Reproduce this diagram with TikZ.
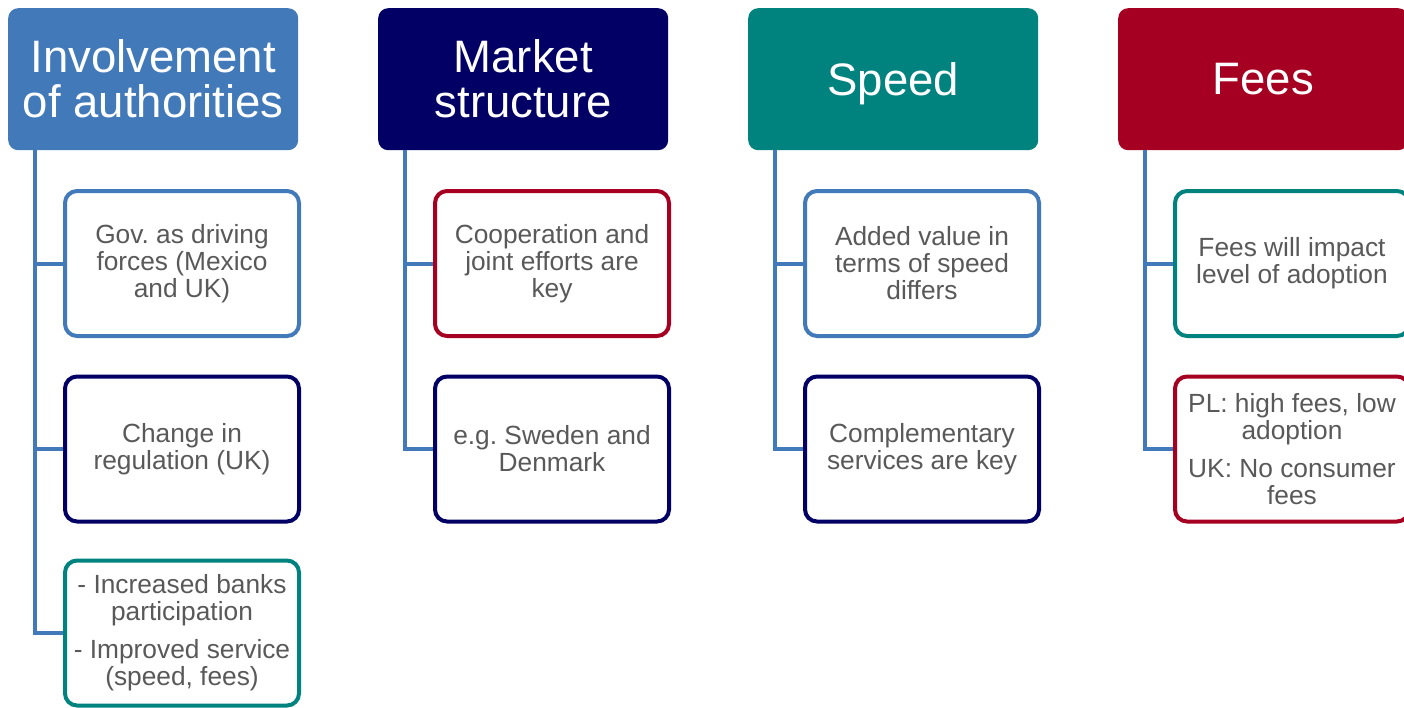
\documentclass[tikz,border=0pt]{standalone}
\usepackage{fontspec}
\setmainfont{Liberation Sans}
\frenchspacing
\definecolor{cblue}{HTML}{4279B9}
\definecolor{cnavy}{HTML}{020064}
\definecolor{cteal}{HTML}{00827F}
\definecolor{cred}{HTML}{A50021}
\definecolor{cgrey}{HTML}{595959}
\begin{document}
\begin{tikzpicture}[x=1pt,y=-1pt,
  head/.style={rounded corners=10pt, minimum width=290pt, minimum height=142pt,
    inner sep=0pt, text=white, font=\fontsize{45.5}{45}\selectfont, align=center,
    anchor=north west},
  child/.style={draw=#1, line width=4pt, rounded corners=12pt, fill=white,
    minimum width=234pt, minimum height=145pt, inner sep=0pt, text=cgrey,
    font=\fontsize{26.3}{27}\selectfont, align=center},
  conn/.style={draw=cblue, line width=4pt}]
\useasboundingbox (0,0) rectangle (1404,707);
\clip (0,0) rectangle (1404,707);

% headers
\node[head, fill=cblue] (h1) at (8,8) {Involvement\\of authorities};
\node[head, fill=cnavy] (h2) at (378,8) {Market\\structure};
\node[head, fill=cteal, text depth=0pt] (h3) at (748,8) {Speed};
\node[head, fill=cred, text depth=0pt]  (h4) at (1118,8) {Fees};

% spine coordinates
\coordinate (s1) at ([xshift=27pt]h1.south west);
\coordinate (s2) at ([xshift=27pt]h2.south west);
\coordinate (s3) at ([xshift=27pt]h3.south west);
\coordinate (s4) at ([xshift=27pt]h4.south west);

% column 1
\node[child=cblue] (c11) at (182,263.5) {Gov. as driving\\forces (Mexico\\and UK)};
\node[child=cnavy] (c12) at (182,449) {Change in\\regulation (UK)};
\node[child=cteal] (c13) at (182,633) {- Increased banks\\participation\\[11pt]- Improved service\\(speed, fees)};

% column 2
\node[child=cred]  (c21) at (552,263.5) {Cooperation and\\joint efforts are\\key};
\node[child=cnavy] (c22) at (552,449) {e.g. Sweden and\\Denmark};

% column 3
\node[child=cblue] (c31) at (922,263.5) {Added value in\\terms of speed\\differs};
\node[child=cnavy] (c32) at (922,449) {Complementary\\services are key};

% column 4
\node[child=cteal] (c41) at (1292,263.5) {Fees will impact\\level of adoption};
\node[child=cred]  (c42) at (1292,449) {PL: high fees, low\\adoption\\[11pt]UK: No consumer\\fees};

% connectors
\draw[conn] (s1) |- (c13.west);
\draw[conn] (s1) |- (c12.west);
\draw[conn] (s1) |- (c11.west);
\draw[conn] (s2) |- (c22.west);
\draw[conn] (s2) |- (c21.west);
\draw[conn] (s3) |- (c32.west);
\draw[conn] (s3) |- (c31.west);
\draw[conn] (s4) |- (c42.west);
\draw[conn] (s4) |- (c41.west);
\end{tikzpicture}
\end{document}
